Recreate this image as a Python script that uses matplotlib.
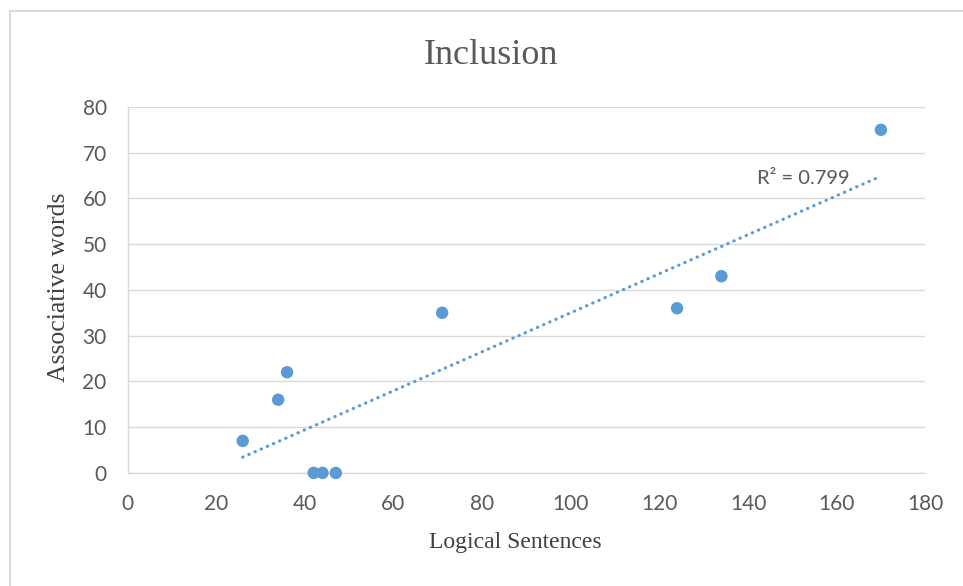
#!/usr/bin/env python3
"""
Inclusion scatter with linear trendline
"""

import matplotlib.pyplot as plt
import numpy as np
from matplotlib.patches import Rectangle

# Data
logical_sentences = [26, 34, 36, 42, 44, 47, 71, 124, 134, 170]
associative_words = [7, 16, 22, 0, 0, 0, 35, 36, 43, 75]
x_ticks = [0, 20, 40, 60, 80, 100, 120, 140, 160, 180]
y_ticks = [0, 10, 20, 30, 40, 50, 60, 70, 80]

blue = '#5B9BD5'
grey_text = '#595959'
grid_col = '#d9d9d9'

fig = plt.figure(figsize=(9.63, 5.86), dpi=100)
ax = fig.add_axes([0.1324, 0.193, 0.8284, 0.6245])

# Linear trendline
x = np.array(logical_sentences, dtype=float)
y = np.array(associative_words, dtype=float)
slope, intercept = np.polyfit(x, y, 1)
fit = slope * x + intercept
r2 = 1 - np.sum((y - fit) ** 2) / np.sum((y - y.mean()) ** 2)
xs = np.array([x.min(), x.max()])
ax.plot(xs, slope * xs + intercept, color=blue, linewidth=2.3,
        linestyle=(0, (0.1, 2.0)), dash_capstyle='round', zorder=2)

ax.scatter(logical_sentences, associative_words, s=80, color=blue,
           edgecolors='none', zorder=3, clip_on=False)

ax.text(142, 64.3, f'R² = {r2:.3f}', fontsize=14.5, family='Lato',
        color=grey_text, ha='left', va='center')

ax.set_xlim(0, 180)
ax.set_ylim(0, 80)
ax.set_xticks(x_ticks)
ax.set_yticks(y_ticks)
ax.tick_params(length=0, labelsize=15, labelcolor=grey_text)
for lbl in ax.get_xticklabels() + ax.get_yticklabels():
    lbl.set_family('Lato')
ax.tick_params(axis='y', pad=15)
ax.tick_params(axis='x', pad=15)

ax.grid(True, axis='y', color=grid_col, linewidth=1.0)
ax.set_axisbelow(True)
for side in ['top', 'right']:
    ax.spines[side].set_visible(False)
for side in ['left', 'bottom']:
    ax.spines[side].set_color(grid_col)
    ax.spines[side].set_linewidth(1.0)

fig.text(0.5095, 0.906, 'Inclusion', fontsize=26, family='Liberation Serif',
         color=grey_text, ha='center', va='center')
fig.text(0.5355, 0.074, 'Logical Sentences', fontsize=17,
         family='Liberation Serif', color='#404040', ha='center', va='center')
fig.text(0.061, 0.51, 'Associative words', fontsize=18.5, rotation=90,
         family='Liberation Serif', color='#404040', ha='center', va='center')

# outer chart border (top and left visible)
fig.patches.append(Rectangle((9.5 / 963, -0.1), 2, 1 - 10.5 / 586 + 0.1,
                             transform=fig.transFigure, fill=False,
                             edgecolor=grid_col, linewidth=1.5))

plt.savefig('out.png', dpi=100)
